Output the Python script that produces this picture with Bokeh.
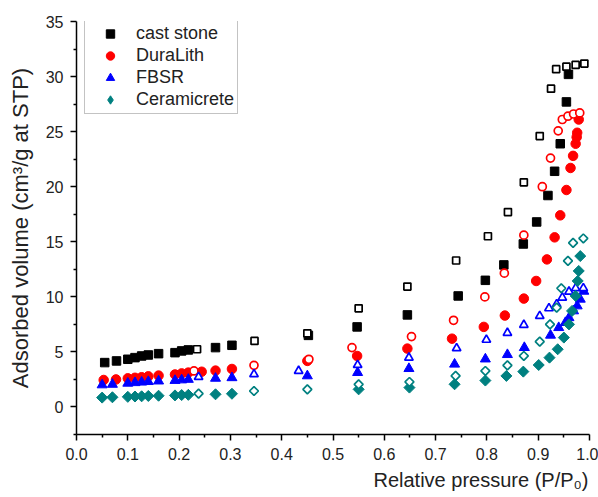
import math
from bokeh.plotting import figure
from bokeh.models import Range1d, FixedTicker, Legend, LegendItem, Title, PrintfTickFormatter
from bokeh.embed import file_html
from bokeh.resources import INLINE

# ---------------- data ----------------
cast_ads_x = [0.055, 0.078, 0.1, 0.114, 0.127, 0.14, 0.16, 0.192, 0.205, 0.218, 0.271, 0.303,
              0.452, 0.547, 0.645, 0.744, 0.797, 0.833, 0.871, 0.897, 0.919, 0.932, 0.943, 0.955, 0.959]
cast_ads_y = [4.03, 4.18, 4.33, 4.48, 4.63, 4.72, 4.84, 4.93, 5.09, 5.18, 5.39, 5.6,
              6.5, 7.27, 8.36, 10.08, 11.5, 12.9, 14.8, 16.8, 19.2, 21.4, 23.9, 27.7, 30.2]
cast_des_x = [0.235, 0.347, 0.45, 0.55, 0.645, 0.74, 0.802, 0.841, 0.872, 0.903, 0.925, 0.935, 0.955, 0.973, 0.99]
cast_des_y = [5.24, 6.0, 6.69, 8.96, 10.93, 13.3, 15.5, 17.7, 20.4, 24.6, 28.9, 30.67, 30.9, 31.06, 31.18]

dura_ads_x = [0.053, 0.077, 0.1, 0.114, 0.127, 0.14, 0.16, 0.192, 0.205, 0.218, 0.244, 0.271, 0.303,
              0.45, 0.547, 0.645, 0.732, 0.794, 0.835, 0.872, 0.896, 0.917, 0.932, 0.943, 0.955,
              0.963, 0.968, 0.973, 0.975, 0.976, 0.979]
dura_ads_y = [2.45, 2.5, 2.6, 2.65, 2.7, 2.78, 2.85, 2.95, 3.05, 3.12, 3.2, 3.3, 3.45,
              4.18, 4.63, 5.3, 6.2, 7.27, 8.3, 9.84, 11.44, 13.4, 15.4, 17.4, 19.7,
              21.7, 22.8, 23.9, 24.5, 24.9, 26.1]
dura_des_x = [0.229, 0.346, 0.453, 0.537, 0.653, 0.735, 0.796, 0.834, 0.872, 0.908, 0.924, 0.939, 0.947, 0.958, 0.969, 0.981]
dura_des_y = [3.27, 3.78, 4.33, 5.39, 6.39, 7.87, 9.99, 12.15, 15.6, 20.0, 22.6, 25.07, 26.1, 26.4, 26.6, 26.7]

fbsr_ads_x = [0.05, 0.07, 0.1, 0.114, 0.127, 0.14, 0.16, 0.192, 0.205, 0.218, 0.271, 0.303,
              0.45, 0.548, 0.648, 0.737, 0.797, 0.84, 0.873, 0.924, 0.94, 0.953, 0.96, 0.969, 0.976, 0.982, 0.989]
fbsr_ads_y = [2.0, 2.05, 2.15, 2.2, 2.25, 2.3, 2.35, 2.4, 2.45, 2.5, 2.6, 2.65,
              2.82, 3.12, 3.48, 3.88, 4.35, 4.75, 5.39, 6.51, 7.2, 7.66, 8.1, 8.72, 9.17, 9.78, 10.5]
fbsr_des_x = [0.238, 0.346, 0.433, 0.548, 0.648, 0.741, 0.799, 0.84, 0.872, 0.903, 0.921, 0.936, 0.947, 0.96, 0.973, 0.988]
fbsr_des_y = [2.72, 2.97, 3.27, 3.81, 4.48, 5.33, 6.1, 6.72, 7.45, 8.26, 8.96, 9.33, 9.93, 10.47, 10.78, 10.78]

cera_ads_x = [0.05, 0.07, 0.1, 0.114, 0.127, 0.14, 0.16, 0.192, 0.205, 0.218, 0.271, 0.303,
              0.55, 0.649, 0.737, 0.797, 0.838, 0.871, 0.901, 0.922, 0.938, 0.95, 0.96, 0.966, 0.973, 0.977, 0.979, 0.982]
cera_ads_y = [0.85, 0.88, 0.92, 0.95, 0.97, 1.0, 1.02, 1.05, 1.08, 1.1, 1.15, 1.2,
              1.6, 1.76, 2.06, 2.4, 2.82, 3.21, 3.81, 4.48, 5.24, 6.3, 7.5, 8.72, 10.08, 11.44, 12.35, 13.7]
cera_des_x = [0.238, 0.346, 0.45, 0.55, 0.649, 0.739, 0.797, 0.84, 0.872, 0.903, 0.923, 0.936, 0.945, 0.958, 0.968, 0.988]
cera_des_y = [1.21, 1.45, 1.6, 2.06, 2.27, 2.82, 3.27, 3.78, 4.63, 5.93, 7.5, 9.02, 10.78, 13.26, 14.9, 15.3]

labels = ["cast stone", "DuraLith", "FBSR", "Ceramicrete"]
x_ticks = [0.0, 0.1, 0.2, 0.3, 0.4, 0.5, 0.6, 0.7, 0.8, 0.9, 1.0]
x_minor = [0.05, 0.15, 0.25, 0.35, 0.45, 0.55, 0.65, 0.75, 0.85, 0.95]
y_ticks = [0, 5, 10, 15, 20, 25, 30, 35]
y_minor = [-2.5, 2.5, 7.5, 12.5, 17.5, 22.5, 27.5, 32.5]

# ---------------- figure ----------------
FONT = "Liberation Sans"
TXT = "#222222"

p = figure(width=598, height=497, output_backend="svg", toolbar_location=None,
           x_range=Range1d(0, 1.0), y_range=Range1d(-2.5, 35),
           min_border_left=76, min_border_right=9, min_border_top=21, min_border_bottom=63)
p.outline_line_color = None
p.grid.visible = False
p.background_fill_color = "white"
p.border_fill_color = "white"

p.xaxis.ticker = FixedTicker(ticks=x_ticks, minor_ticks=x_minor)
p.yaxis.ticker = FixedTicker(ticks=y_ticks, minor_ticks=y_minor)
p.xaxis.formatter = PrintfTickFormatter(format="%.1f")
p.yaxis.formatter = PrintfTickFormatter(format="%d")
for ax in (p.xaxis, p.yaxis):
    ax.axis_line_width = 1.5
    ax.axis_line_color = "black"
    ax.major_tick_line_width = 1.5
    ax.minor_tick_line_width = 1.5
    ax.major_tick_out = 6
    ax.major_tick_in = 0
    ax.minor_tick_out = 3
    ax.minor_tick_in = 0
    ax.major_label_text_font = FONT
    ax.major_label_text_font_size = "16px"
    ax.major_label_text_color = TXT
p.xaxis.major_label_standoff = 7
p.yaxis.major_label_standoff = 7

p.yaxis.axis_label = "Adsorbed volume (cm\u00b3/g at STP)"
p.yaxis.axis_label_text_font = FONT
p.yaxis.axis_label_text_font_size = "22px"
p.yaxis.axis_label_text_font_style = "normal"
p.yaxis.axis_label_text_color = TXT
p.yaxis.axis_label_standoff = 10

xt = Title(text="Relative pressure (P/P\u2080)", align="right", text_font=FONT,
           text_font_size="20px", text_font_style="normal", text_color=TXT,
           offset=1, standoff=9)
p.add_layout(xt, "below")

series = [
    (cast_ads_x, cast_ads_y, cast_des_x, cast_des_y, "square", 8.5, "black", 0, "square"),
    (dura_ads_x, dura_ads_y, dura_des_x, dura_des_y, "circle", 9.5, "#ff0000", 0, "circle"),
    (fbsr_ads_x, fbsr_ads_y, fbsr_des_x, fbsr_des_y, "triangle", 10, "#0000ff", 0, "triangle"),
    (cera_ads_x, cera_ads_y, cera_des_x, cera_des_y, "square", 7.8, "#008080", math.pi / 4, "diamond"),
]
items = []
for (ax_, ay_, dx_, dy_, mk, sz, col, ang, legmk), lab in zip(series, labels):
    r = p.scatter(ax_, ay_, marker=mk, size=sz, angle=ang, fill_color=col, line_color=col, line_width=1)
    p.scatter(dx_, dy_, marker=mk, size=sz - 1.5, angle=ang, fill_color="white", line_color=col, line_width=1.7)
    if legmk != mk:
        # legend-only glyph (no visible data point)
        r = p.scatter([float("nan")], [float("nan")], marker=legmk, size=sz,
                      fill_color=col, line_color=col)
    items.append(LegendItem(label=lab, renderers=[r]))

leg = Legend(items=items, location=(8, 320), margin=0, padding=3, spacing=1,
             label_height=21, glyph_height=21, glyph_width=44, label_standoff=4,
             label_text_font=FONT, label_text_font_size="18px", label_text_color=TXT,
             border_line_color="#888888", border_line_width=1.2,
             background_fill_color="white", background_fill_alpha=1.0)
p.add_layout(leg)

open("out.html", "w").write(file_html(p, INLINE))
